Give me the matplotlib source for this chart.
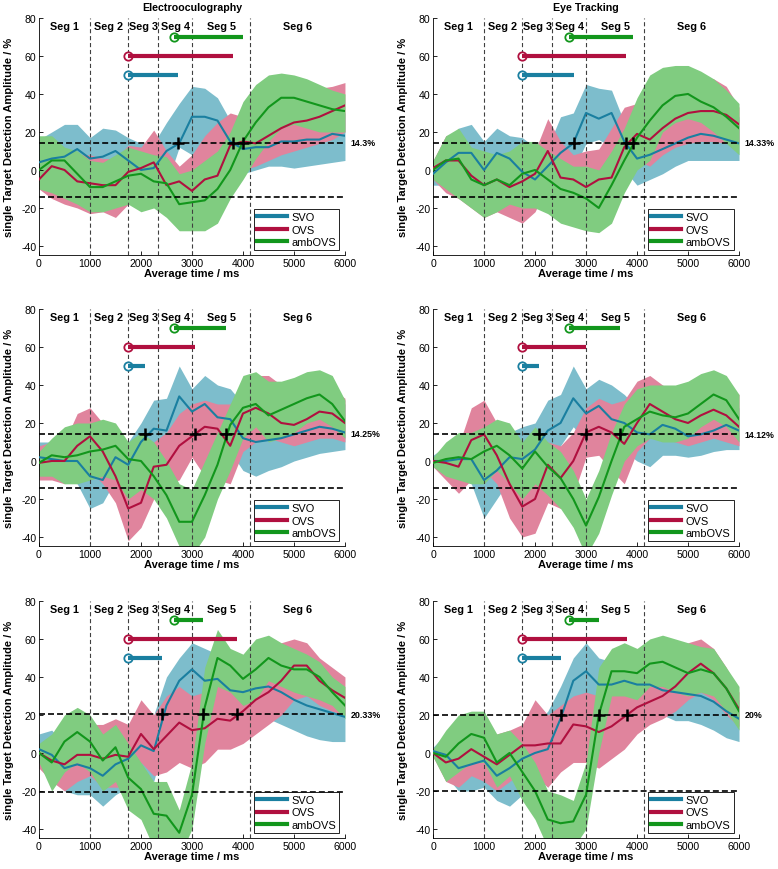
import matplotlib.pyplot as plt

plt.rcParams['font.family'] = ['Liberation Sans', 'DejaVu Sans']
plt.rcParams['axes.unicode_minus'] = False
plt.rcParams['lines.scale_dashes'] = False

# time axis (ms)
time_ms = [0, 250, 500, 750, 1000, 1250, 1500, 1750, 2000, 2250, 2500, 2750, 3000,
           3250, 3500, 3750, 4000, 4250, 4500, 4750, 5000, 5250, 5500, 5750, 6000]

seg_bounds = [1000, 1740, 2340, 3000, 4140]
seg_labels = ['Seg 1', 'Seg 2', 'Seg 3', 'Seg 4', 'Seg 5', 'Seg 6']
seg_centers = [500, 1370, 2040, 2670, 3570, 5070]

conditions = ['SVO', 'OVS', 'ambOVS']
line_cols = ['#1a7fa0', '#b0103f', '#12961c']
band_cols = ['#7dbdcc', '#e0849d', '#80cc80']
bar_levels = [50, 60, 70]

titles = ['Electrooculography', 'Eye Tracking', '', '', '', '']
thresholds = [14.3, 14.33, 14.25, 14.12, 20.33, 20]
thr_labels = ['14.3%', '14.33%', '14.25%', '14.12%', '20.33%', '20%']

# --- panel 1: EOG, top
p1_svo = [4, 6, 7, 11, 6, 7, 10, 5, 0, 1, 10, 14, 28, 28, 26, 15, 11, 12, 12, 15, 15, 16, 16, 19, 18]
p1_svo_lo = [-6, -8, -8, -6, -8, -8, -6, -8, -12, -12, -8, 12, 8, 6, 4, 0, -2, 0, 2, 2, 1, 2, 3, 4, 5]
p1_svo_hi = [16, 20, 24, 24, 17, 22, 21, 17, 14, 14, 25, 35, 44, 43, 38, 26, 18, 22, 26, 28, 30, 30, 32, 33, 30]
p1_ovs = [-5, 2, 0, -6, -7, -8, -8, -1, 1, 4, -8, -6, -11, -5, -3, 13, 15, 14, 18, 22, 25, 26, 28, 31, 34]
p1_ovs_lo = [-10, -15, -18, -20, -23, -22, -25, -18, -18, -15, -22, -22, -28, -20, -15, -10, 0, 2, 5, 8, 10, 12, 14, 16, 20]
p1_ovs_hi = [5, 12, 10, 8, 8, 6, 6, 13, 12, 21, 10, 2, 8, 18, 25, 30, 28, 30, 34, 38, 40, 41, 43, 44, 46]
p1_amb = [0, 5, 5, -2, -9, -9, -6, -3, -2, -6, -7, -18, -17, -16, -10, 0, 15, 25, 33, 38, 38, 36, 34, 32, 31]
p1_amb_lo = [-10, -12, -15, -18, -22, -22, -20, -18, -22, -20, -25, -32, -32, -32, -28, -15, -5, 6, 15, 22, 24, 22, 20, 20, 20]
p1_amb_hi = [18, 18, 12, 10, 5, 4, 8, 12, 10, 8, 7, -2, 0, 5, 10, 20, 36, 45, 50, 51, 50, 48, 45, 42, 40]

# --- panel 2: ET, top
p2_svo = [-2, 4, 9, 9, 0, 9, 6, -1, -5, 2, 9, 14, 30, 27, 30, 15, 6, 8, 11, 14, 17, 19, 18, 16, 14]
p2_svo_lo = [-8, -8, -6, -6, -15, -8, -8, -15, -20, -12, -5, 0, 14, 16, 12, 0, -8, -5, -2, 2, 5, 5, 5, 5, 5]
p2_svo_hi = [5, 15, 22, 24, 15, 22, 18, 17, 12, 12, 28, 30, 45, 43, 42, 25, 18, 22, 25, 27, 30, 31, 30, 28, 28]
p2_ovs = [1, 5, 5, -3, -8, -5, -9, -6, -2, 10, -4, -5, -9, -5, -4, 12, 19, 16, 22, 27, 30, 31, 31, 29, 24]
p2_ovs_lo = [-5, -12, -15, -20, -25, -22, -25, -28, -22, -8, -15, -20, -25, -20, -15, -5, 5, 2, 8, 12, 14, 15, 15, 14, 14]
p2_ovs_hi = [5, 18, 20, 10, 5, 5, 3, 5, 10, 27, 15, 8, 10, 11, 22, 33, 35, 30, 35, 42, 47, 48, 48, 44, 33]
p2_amb = [0, 5, 6, -5, -8, -5, -8, -2, 0, -5, -10, -12, -15, -20, -8, 5, 17, 26, 34, 39, 40, 36, 33, 28, 22]
p2_amb_lo = [-5, -10, -15, -20, -25, -22, -18, -20, -20, -23, -28, -30, -32, -33, -28, -12, 0, 5, 20, 25, 27, 25, 20, 14, 8]
p2_amb_hi = [5, 18, 22, 12, 10, 8, 10, 15, 15, 10, 6, 2, 2, 0, 10, 22, 38, 50, 54, 55, 55, 52, 48, 42, 35]

# --- panel 3: EOG, middle
p3_svo = [2, 1, 0, 0, -8, -10, 2, -2, 10, 17, 16, 34, 26, 30, 23, 22, 12, 10, 11, 12, 14, 16, 18, 17, 15]
p3_svo_lo = [-5, -8, -10, -12, -25, -22, -10, -12, -5, 2, 0, 15, 10, 12, 5, 5, -5, -8, -5, -3, 0, 2, 4, 5, 6]
p3_svo_hi = [10, 10, 12, 15, 10, 15, 15, 10, 20, 32, 33, 50, 38, 45, 40, 38, 30, 28, 30, 30, 28, 30, 32, 32, 30]
p3_ovs = [-1, 0, 0, 8, 13, 5, -8, -25, -22, -3, -2, 8, 13, 18, 17, 8, 25, 28, 25, 20, 19, 22, 26, 25, 20]
p3_ovs_lo = [-10, -10, -12, -8, -5, -12, -22, -42, -35, -20, -12, -10, 2, -8, -10, -12, 5, 10, 12, 10, 8, 10, 12, 12, 10]
p3_ovs_hi = [8, 10, 10, 25, 28, 20, 12, 0, -5, 10, 15, 25, 30, 32, 30, 30, 38, 45, 45, 40, 35, 35, 38, 38, 33]
p3_amb = [-1, 3, 2, 3, 5, 6, 8, 1, 0, -8, -18, -32, -32, -18, -2, 19, 28, 30, 24, 27, 30, 33, 35, 30, 21]
p3_amb_lo = [-8, -8, -12, -12, -10, -8, -10, -20, -15, -20, -30, -45, -50, -40, -20, -5, 12, 18, 10, 12, 15, 20, 22, 18, 12]
p3_amb_hi = [5, 12, 18, 20, 20, 22, 20, 10, 15, 10, 0, -12, -15, 0, 15, 30, 45, 47, 42, 42, 44, 47, 48, 45, 32]

# --- panel 4: ET, middle
p4_svo = [0, 0, 1, 1, -10, -5, 2, 1, 6, 16, 20, 33, 25, 29, 22, 20, 15, 14, 19, 17, 13, 14, 16, 19, 16]
p4_svo_lo = [-3, -8, -10, -12, -30, -20, -10, -15, -10, 0, 8, 18, 10, 12, 5, 5, 0, -3, 3, 3, 2, 3, 5, 6, 6]
p4_svo_hi = [3, 8, 10, 12, 8, 12, 15, 18, 20, 32, 35, 50, 38, 43, 40, 35, 28, 28, 32, 30, 25, 27, 30, 30, 28]
p4_ovs = [0, -1, -3, 11, 14, 3, -12, -24, -20, -2, -9, 0, 15, 18, 15, 9, 20, 30, 26, 22, 20, 24, 27, 24, 18]
p4_ovs_lo = [-3, -10, -17, -10, -5, -12, -30, -40, -38, -22, -25, -18, 2, 3, -5, -12, 5, 12, 12, 10, 8, 10, 12, 10, 8]
p4_ovs_hi = [2, 5, 8, 28, 32, 20, 5, -8, -5, 10, 8, 15, 28, 33, 30, 32, 42, 45, 40, 36, 34, 38, 42, 40, 35]
p4_amb = [-1, 1, 2, 1, 5, 8, 3, -4, 5, -3, -9, -20, -34, -19, 0, 18, 22, 26, 24, 23, 25, 30, 35, 32, 22]
p4_amb_lo = [-3, -8, -10, -12, -12, -5, -12, -20, -12, -18, -25, -35, -50, -38, -18, 0, 8, 12, 10, 10, 12, 18, 22, 18, 10]
p4_amb_hi = [2, 10, 15, 15, 18, 22, 20, 10, 18, 10, 5, -5, -20, -5, 15, 30, 38, 40, 40, 40, 42, 46, 48, 45, 35]

# --- panel 5: EOG, bottom
p5_svo = [2, -1, -8, -6, -8, -12, -6, -3, 4, 1, 25, 38, 44, 38, 39, 33, 32, 34, 35, 32, 28, 25, 23, 21, 19]
p5_svo_lo = [-5, -12, -20, -22, -22, -28, -22, -18, -10, -15, 10, 22, 28, 22, 22, 18, 18, 18, 18, 15, 12, 9, 7, 6, 6]
p5_svo_hi = [10, 12, 5, 10, 8, 5, 8, 10, 15, 20, 40, 50, 58, 55, 52, 48, 50, 50, 52, 50, 45, 40, 35, 32, 30]
p5_ovs = [0, -4, -6, -1, -1, -3, -1, -2, 10, 2, 9, 16, 12, 13, 18, 17, 22, 28, 32, 38, 46, 46, 38, 33, 29]
p5_ovs_lo = [-8, -15, -20, -15, -12, -18, -18, -18, -5, -12, -10, -5, -8, -5, 2, 2, 5, 10, 15, 20, 28, 30, 25, 22, 20]
p5_ovs_hi = [5, 5, 5, 10, 15, 15, 18, 15, 28, 20, 30, 35, 30, 32, 38, 40, 42, 45, 50, 58, 60, 58, 50, 45, 40]
p5_amb = [0, -5, 6, 11, 6, -4, 3, -13, -19, -32, -33, -42, -22, 24, 50, 46, 39, 44, 50, 46, 44, 44, 40, 32, 25]
p5_amb_lo = [-5, -20, -10, -5, -10, -20, -15, -30, -35, -50, -48, -55, -40, 5, 35, 32, 25, 28, 38, 35, 32, 30, 28, 25, 18]
p5_amb_hi = [5, 10, 20, 24, 20, 10, 15, 5, -5, -15, -15, -30, -5, 45, 65, 55, 52, 60, 62, 58, 55, 52, 48, 40, 35]

# --- panel 6: ET, bottom
p6_svo = [1, -1, -8, -6, -4, -12, -8, -3, 0, 2, 18, 38, 43, 36, 36, 38, 36, 36, 33, 32, 31, 30, 27, 22, 18]
p6_svo_lo = [-2, -12, -20, -20, -18, -25, -28, -22, -12, -18, 5, 20, 30, 25, 28, 28, 25, 22, 20, 17, 17, 15, 12, 8, 6]
p6_svo_hi = [3, 10, 12, 8, 10, 5, 8, 10, 15, 22, 35, 50, 58, 50, 48, 48, 48, 48, 46, 45, 45, 42, 38, 32, 28]
p6_ovs = [0, -5, -3, 2, -2, -6, -1, 4, 4, 5, 5, 15, 14, 11, 14, 19, 24, 27, 30, 35, 42, 47, 42, 34, 23]
p6_ovs_lo = [-2, -15, -18, -12, -15, -20, -15, -10, -12, -18, -10, -5, -5, -8, -3, 2, 10, 15, 18, 22, 28, 32, 28, 20, 14]
p6_ovs_hi = [2, 8, 10, 15, 12, 10, 12, 15, 28, 20, 25, 30, 32, 30, 35, 35, 38, 40, 45, 50, 58, 60, 55, 45, 32]
p6_amb = [0, -2, 5, 10, 8, -5, 0, -10, -20, -35, -37, -36, -22, 20, 43, 43, 42, 47, 48, 45, 42, 44, 42, 34, 22]
p6_amb_lo = [-2, -15, -10, -5, -5, -18, -12, -25, -35, -50, -55, -50, -40, 0, 30, 30, 28, 35, 35, 32, 30, 32, 30, 22, 12]
p6_amb_hi = [2, 12, 20, 22, 22, 10, 12, 5, -5, -20, -22, -25, -5, 45, 55, 58, 55, 60, 62, 60, 58, 56, 55, 45, 35]

# significance intervals: (start, end) for SVO, OVS, ambOVS
p1_bars = [(1740, 2730), (1740, 3800), (2650, 4000)]
p2_bars = [(1750, 2760), (1750, 3790), (2670, 3930)]
p3_bars = [(1740, 2080), (1740, 3050), (2650, 3670)]
p4_bars = [(1745, 2085), (1745, 3000), (2670, 3670)]
p5_bars = [(1740, 2420), (1740, 3880), (2650, 3220)]
p6_bars = [(1750, 2515), (1745, 3800), (2670, 3245)]

panels = [
    ([p1_svo, p1_ovs, p1_amb], [p1_svo_lo, p1_ovs_lo, p1_amb_lo], [p1_svo_hi, p1_ovs_hi, p1_amb_hi], p1_bars),
    ([p2_svo, p2_ovs, p2_amb], [p2_svo_lo, p2_ovs_lo, p2_amb_lo], [p2_svo_hi, p2_ovs_hi, p2_amb_hi], p2_bars),
    ([p3_svo, p3_ovs, p3_amb], [p3_svo_lo, p3_ovs_lo, p3_amb_lo], [p3_svo_hi, p3_ovs_hi, p3_amb_hi], p3_bars),
    ([p4_svo, p4_ovs, p4_amb], [p4_svo_lo, p4_ovs_lo, p4_amb_lo], [p4_svo_hi, p4_ovs_hi, p4_amb_hi], p4_bars),
    ([p5_svo, p5_ovs, p5_amb], [p5_svo_lo, p5_ovs_lo, p5_amb_lo], [p5_svo_hi, p5_ovs_hi, p5_amb_hi], p5_bars),
    ([p6_svo, p6_ovs, p6_amb], [p6_svo_lo, p6_ovs_lo, p6_amb_lo], [p6_svo_hi, p6_ovs_hi, p6_amb_hi], p6_bars),
]

fig = plt.figure(figsize=(7.78, 8.70), dpi=100)
lefts = [0.0501, 0.5566]
bottoms = [0.7052, 0.3707, 0.0351]
w, h = 0.3933, 0.2730

for i, (means, los, his, bars) in enumerate(panels):
    ax = fig.add_axes([lefts[i % 2], bottoms[i // 2], w, h])

    for k in range(3):
        ax.fill_between(time_ms, los[k], his[k], color=band_cols[k], lw=0, zorder=1 + k * 0.1)
    for k in range(3):
        ax.plot(time_ms, means[k], color=line_cols[k], lw=1.5, zorder=3, label=conditions[k])

    for b in seg_bounds:
        ax.axvline(b, color='0.25', lw=0.8, dashes=(3, 2), zorder=2)
    for c, s in zip(seg_centers, seg_labels):
        ax.text(c, 76, s, ha='center', va='center', fontsize=7.8, fontweight='bold')

    thr = thresholds[i]
    ax.plot([0, 6000], [thr, thr], color='k', lw=1.2, dashes=(4.3, 2.2), zorder=4)
    ax.plot([0, 6000], [-thr, -thr], color='k', lw=1.2, dashes=(4.3, 2.2), zorder=4)
    ax.annotate(thr_labels[i], (6000, thr), xytext=(4, 0), textcoords='offset points',
                va='center', ha='left', fontsize=6.4, fontweight='bold', annotation_clip=False)

    for k in range(3):
        start, end = bars[k]
        ax.plot([start], [bar_levels[k]], 'o', ms=6, mfc='white', mec=line_cols[k], mew=1.3, zorder=5)
        ax.plot([start, end], [bar_levels[k], bar_levels[k]], color=line_cols[k], lw=3,
                solid_capstyle='butt', zorder=6)
        ax.plot([end], [thr], '+', color='k', ms=8.5, mew=1.8, zorder=7)

    ax.set_xlim(0, 6000)
    ax.set_ylim(-45, 80)
    ax.set_xticks([0, 1000, 2000, 3000, 4000, 5000, 6000])
    ax.set_yticks([-40, -20, 0, 20, 40, 60, 80])
    ax.tick_params(direction='in', length=3, width=0.6, labelsize=7.6, pad=2)
    for sp in ['top', 'right']:
        ax.spines[sp].set_visible(False)
    for sp in ['left', 'bottom']:
        ax.spines[sp].set_linewidth(0.6)
    ax.set_xlabel('Average time / ms', fontsize=8, fontweight='bold', labelpad=0)
    ax.set_ylabel('single Target Detection Amplitude / %', fontsize=8, fontweight='bold', labelpad=5)
    if titles[i]:
        ax.set_title(titles[i], fontsize=7.7, fontweight='bold', pad=6)

    leg = ax.legend(loc='lower right', fontsize=7.9, handlelength=2.7, labelspacing=0.2,
                    borderaxespad=0.5, fancybox=False, framealpha=1, edgecolor='k',
                    handletextpad=0.4, borderpad=0.3)
    leg.get_frame().set_linewidth(0.6)
    for ln in leg.get_lines():
        ln.set_linewidth(3)

fig.savefig('out.png', dpi=100)
